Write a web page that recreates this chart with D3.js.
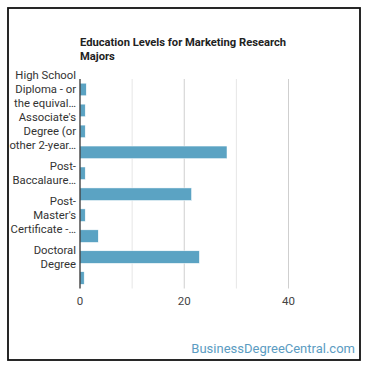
<!DOCTYPE html>
<html>
<head>
<meta charset="utf-8">
<script src="https://cdn.jsdelivr.net/npm/d3@7"></script>
<style>
  body { margin: 0; background: #fff; }
  svg { font-family: Roboto, "Noto Sans", sans-serif; }
</style>
</head>
<body>
<svg id="chart" width="370" height="370"></svg>
<script>
// Categories (full names) and values
const categories = [
  "High School Diploma - or the equivalent",
  "Some College Courses",
  "Associate's Degree (or other 2-year degree)",
  "Bachelor's Degree",
  "Post-Baccalaureate Certificate",
  "Master's Degree",
  "Post-Master's Certificate - awarded",
  "First Professional Degree",
  "Doctoral Degree",
  "Post-Doctoral Training",
];
const values = [1.2, 1.0, 1.0, 28.2, 1.0, 21.4, 1.0, 3.5, 22.9, 0.8];

// Tick labels as shown (every other category gets a wrapped label)
const tickLabels = [
  ["High School", "Diploma - or", "the equival…"],
  [],
  ["Associate's", "Degree (or", "other 2-year…"],
  [],
  ["Post-", "Baccalaure…"],
  [],
  ["Post-", "Master's", "Certificate -…"],
  [],
  ["Doctoral", "Degree"],
  [],
];
const xTicks = [0, 20, 40];
const gridTicks = [0, 10, 20, 30, 40];
const title = ["Education Levels for Marketing Research", "Majors"];

const svg = d3.select("#chart");

// Frame
svg.append("rect")
  .attr("x", 8).attr("y", 8)
  .attr("width", 352).attr("height", 352)
  .attr("fill", "#fff")
  .attr("stroke", "#111")
  .attr("stroke-width", 1.8);

const x = d3.scaleLinear().domain([0, 40]).range([80, 288.5]);
const y = d3.scaleBand()
  .domain(categories)
  .range([79, 288.5])
  .paddingInner(0.4)
  .paddingOuter(0.2);

// Title
svg.append("text")
  .attr("x", 80).attr("y", 46)
  .attr("font-size", 11.2).attr("font-weight", 700).attr("fill", "#222")
  .selectAll("tspan").data(title).join("tspan")
  .attr("x", 80).attr("dy", (d, i) => (i ? 14 : 0))
  .text((d) => d);

// Grid lines
svg.append("g").selectAll("line").data(gridTicks.filter((t) => t > 0)).join("line")
  .attr("x1", (d) => x(d)).attr("x2", (d) => x(d))
  .attr("y1", 79).attr("y2", 288.5)
  .attr("stroke", (d) => (d % 20 === 0 ? "#cfcfcf" : "#e6e6e6"))
  .attr("stroke-width", 1);

// Bars
svg.append("g").selectAll("rect").data(values).join("rect")
  .attr("x", x(0))
  .attr("y", (d, i) => y(categories[i]))
  .attr("width", (d) => x(d) - x(0))
  .attr("height", y.bandwidth())
  .attr("fill", "#5ba3c3")
  .attr("stroke", "#fff")
  .attr("stroke-width", 0.5);

// Y axis line
svg.append("line")
  .attr("x1", 80).attr("x2", 80)
  .attr("y1", 79).attr("y2", 288.5)
  .attr("stroke", "#222").attr("stroke-width", 1.2);

// Category labels
const labelG = svg.append("g")
  .attr("font-size", 11.3).attr("fill", "#333").attr("text-anchor", "end");
tickLabels.forEach((lines, i) => {
  if (!lines.length) return;
  const cy = y(categories[i]) + y.bandwidth() / 2;
  const lh = 14;
  const top = cy - ((lines.length - 1) * lh) / 2;
  labelG.append("text")
    .attr("dominant-baseline", "central")
    .selectAll("tspan").data(lines).join("tspan")
    .attr("x", 76)
    .attr("y", (d, j) => top + j * lh)
    .text((d) => d);
});

// X tick labels
svg.append("g").selectAll("text").data(xTicks).join("text")
  .attr("x", (d) => x(d)).attr("y", 305)
  .attr("text-anchor", "middle")
  .attr("font-size", 11.5).attr("fill", "#444")
  .text((d) => d);

// Watermark
svg.append("text")
  .attr("x", 355).attr("y", 353)
  .attr("text-anchor", "end")
  .attr("font-size", 13).attr("fill", "#5b9cc2")
  .text("BusinessDegreeCentral.com");
</script>
</body>
</html>
